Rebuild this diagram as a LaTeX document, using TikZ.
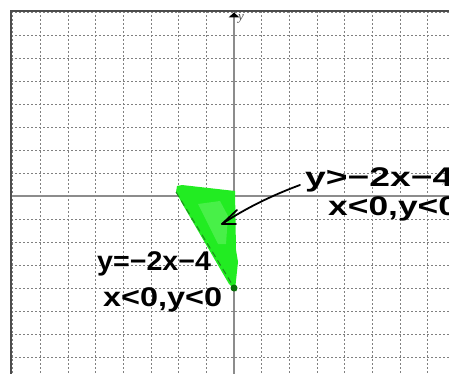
\documentclass[tikz,border=0pt]{standalone}
\usepackage{fontspec}
\setmainfont{Liberation Serif}
\newfontfamily\hand{Liberation Sans}
\begin{document}
\definecolor{gA}{RGB}{34,236,34}
\definecolor{gB}{RGB}{72,240,72}
\definecolor{gLine}{RGB}{30,140,30}
\definecolor{gDot}{RGB}{10,110,10}
\begin{tikzpicture}[x=1pt,y=-1pt,
  gridline/.style={black!50, line width=0.8pt, dash pattern=on 2pt off 2pt},
  axisline/.style={black!45, line width=1.4pt},
  handtext/.style={font=\hand\bfseries\fontsize{27}{27}\selectfont, inner sep=0pt, anchor=base west, text=black},
  penline/.style={black, line width=1.8pt, line cap=round, line join=round}]
\useasboundingbox (0,0) rectangle (449,374);
\clip (0,0) rectangle (449,374);
\fill[white] (0,0) rectangle (449,374);
% grid
\foreach \k in {-8,...,8} \draw[gridline] ({234+27.65*\k},11) -- ({234+27.65*\k},374);
\foreach \k in {-8,...,8} \draw[gridline] (11,{196+23*\k}) -- (449,{196+23*\k});
% axes
\draw[axisline] (11,196) -- (449,196);
\draw[axisline] (234,15) -- (234,374);
\fill[black] (234,12.5) -- (239.5,17.5) -- (228.5,17.5) -- cycle;
% frame
\draw[black!70, line width=2pt] (11,374) -- (11,11) -- (449,11);
\node[font=\itshape\fontsize{13}{13}\selectfont, text=black!70, anchor=west, inner sep=0pt] (ylab) at (238,19) {y};
\node[font=\itshape\fontsize{9}{9}\selectfont, text=black!40, anchor=center, inner sep=0pt] (xlab) at (444,183) {x};
% shaded region
\fill[gA] (177,186) -- (182,185) -- (235,191) -- (236,250) -- (238,262) -- (235,290) -- (229,284) -- (183,205) -- (176,192) -- cycle;
\fill[gB] (198,204) -- (220,201) -- (228,216) -- (226,244) -- (218,244) -- cycle;
\draw[gLine, line width=1pt, dash pattern=on 6pt off 4pt] (176,192) -- (238,294);
\fill[gDot] (234,288) circle (3.5);
% handwritten labels
\node[handtext] (t1) at (305,186) {\scalebox{1.38}[1]{y>−2x−4}};
\node[handtext] (t2) at (328,215) {\scalebox{1.31}[1]{x<0,y<0}};
\node[handtext] (b1) at (97,270) {\scalebox{1.06}[1]{y=−2x−4}};
\node[handtext] (b2) at (103,306) {\scalebox{1.2}[1]{x<0,y<0}};
% arrow
\coordinate (as) at (300,185);
\coordinate (at) at (222,224);
\coordinate (armA) at (237,210);
\coordinate (armB) at (236,224);
\draw[penline] (as) .. controls (265,198) and (240,212) .. (at);
\draw[penline] (armA) -- (at) -- (armB);
\end{tikzpicture}
\end{document}
